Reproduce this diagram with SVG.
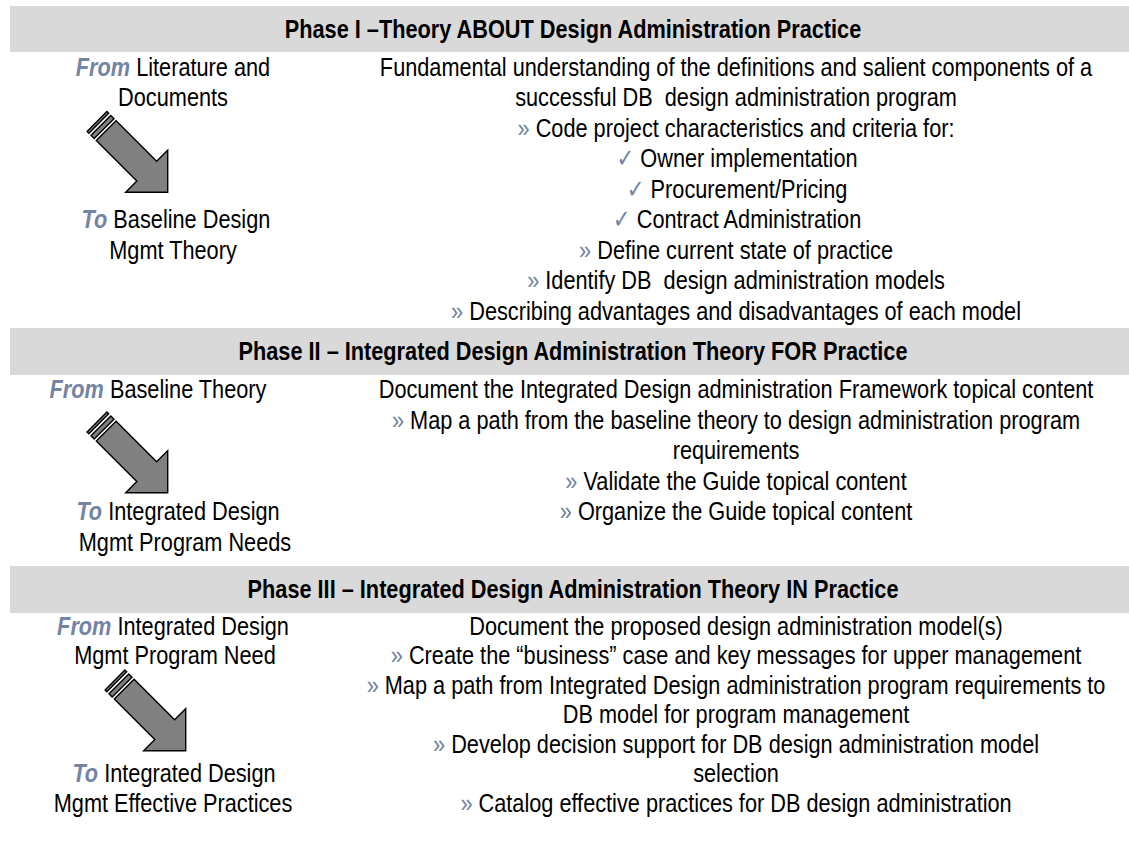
<svg xmlns="http://www.w3.org/2000/svg" xmlns:xlink="http://www.w3.org/1999/xlink" width="1129" height="851" viewBox="0 0 1129 851">
  <style>
    .bar { fill: #D9D9D9; }
    /* narrow sans: regular face condensed to 82% width */
    text { font-family: "Liberation Sans", Arial, sans-serif; font-size: 26.5px; fill: #000; text-anchor: middle; }
    .pre { white-space: pre; }
    .hd { font-weight: bold; }
    .kw { fill: #7484A3; font-weight: bold; font-style: italic; }
    .gt { fill: #7484A3; }
    .ck { fill: #7484A3; font-family: "DejaVu Sans", sans-serif; font-size: 26px; }
    .arrow { fill: #808080; stroke: #000; stroke-width: 1.4; stroke-linejoin: miter; }
  </style>
  <defs>
    <!-- striped block arrow, pointing along +x, tail at origin -->
    <g id="stripedArrow" class="arrow">
      <rect x="0" y="-14" width="2.5" height="28"/>
      <rect x="5.5" y="-14" width="4.5" height="28"/>
      <path d="M13,-14 H70.3 V-29.7 L100,0 L70.3,29.7 V14 H13 Z"/>
    </g>
  </defs>

  <!-- Phase I -->
  <g id="phase1-header">
    <rect class="bar" x="10" y="6" width="1119" height="46"/>
    <g transform="scale(0.82,1)">
      <text class="hd" x="698.8" y="38.5">Phase I –Theory ABOUT Design Administration Practice</text>
    </g>
  </g>
  <g id="phase1-from-to" transform="scale(0.82,1)">
    <text x="211" y="76"><tspan class="kw">From</tspan> Literature and</text>
    <text x="211" y="106.5">Documents</text>
    <text x="214.6" y="228.5"><tspan class="kw">To</tspan> Baseline Design</text>
    <text x="211" y="259">Mgmt Theory</text>
  </g>
  <g id="phase1-tasks" transform="scale(0.82,1)">
    <text x="897.6" y="76">Fundamental understanding of the definitions and salient components of a</text>
    <text class="pre" x="897.6" y="106.5">successful DB  design administration program</text>
    <text x="897.6" y="137"><tspan class="gt">»</tspan> Code project characteristics and criteria for:</text>
    <text x="898.8" y="167.5"><tspan class="ck">✓</tspan> Owner implementation</text>
    <text x="898.8" y="198"><tspan class="ck">✓</tspan> Procurement/Pricing</text>
    <text x="898.8" y="228.5"><tspan class="ck">✓</tspan> Contract Administration</text>
    <text x="897.6" y="259"><tspan class="gt">»</tspan> Define current state of practice</text>
    <text class="pre" x="897.6" y="289.5"><tspan class="gt">»</tspan> Identify DB  design administration models</text>
    <text x="897.6" y="320"><tspan class="gt">»</tspan> Describing advantages and disadvantages of each model</text>
  </g>

  <!-- Phase II -->
  <g id="phase2-header">
    <rect class="bar" x="10" y="328" width="1119" height="47"/>
    <g transform="scale(0.82,1)">
      <text class="hd" x="698.8" y="360.5">Phase II – Integrated Design Administration Theory FOR Practice</text>
    </g>
  </g>
  <g id="phase2-from-to" transform="scale(0.82,1)">
    <text x="192.7" y="398.5"><tspan class="kw">From</tspan> Baseline Theory</text>
    <text x="217.1" y="520.5"><tspan class="kw">To</tspan> Integrated Design</text>
    <text x="225.6" y="551">Mgmt Program Needs</text>
  </g>
  <g id="phase2-tasks" transform="scale(0.82,1)">
    <text x="897.6" y="398.5">Document the Integrated Design administration Framework topical content</text>
    <text x="897.6" y="429"><tspan class="gt">»</tspan> Map a path from the baseline theory to design administration program</text>
    <text x="897.6" y="459.5">requirements</text>
    <text x="897.6" y="490"><tspan class="gt">»</tspan> Validate the Guide topical content</text>
    <text x="897.6" y="520.5"><tspan class="gt">»</tspan> Organize the Guide topical content</text>
  </g>

  <!-- Phase III -->
  <g id="phase3-header">
    <rect class="bar" x="10" y="566" width="1119" height="47"/>
    <g transform="scale(0.82,1)">
      <text class="hd" x="698.8" y="598.5">Phase III – Integrated Design Administration Theory IN Practice</text>
    </g>
  </g>
  <g id="phase3-from-to" transform="scale(0.82,1)">
    <text x="211" y="635"><tspan class="kw">From</tspan> Integrated Design</text>
    <text x="213.4" y="664.5">Mgmt Program Need</text>
    <text x="212.2" y="782.5"><tspan class="kw">To</tspan> Integrated Design</text>
    <text x="211" y="812">Mgmt Effective Practices</text>
  </g>
  <g id="phase3-tasks" transform="scale(0.82,1)">
    <text x="897.6" y="635">Document the proposed design administration model(s)</text>
    <text x="897.6" y="664.5"><tspan class="gt">»</tspan> Create the “business” case and key messages for upper management</text>
    <text x="897.6" y="694"><tspan class="gt">»</tspan> Map a path from Integrated Design administration program requirements to</text>
    <text x="897.6" y="723.5">DB model for program management</text>
    <text x="897.6" y="753"><tspan class="gt">»</tspan> Develop decision support for DB design administration model</text>
    <text x="897.6" y="782.5">selection</text>
    <text x="897.6" y="812"><tspan class="gt">»</tspan> Catalog effective practices for DB design administration</text>
  </g>

  <!-- transition arrows -->
  <g id="connectors">
    <use xlink:href="#stripedArrow" transform="translate(97,121.5) rotate(45)"/>
    <use xlink:href="#stripedArrow" transform="translate(97,422) rotate(45)"/>
    <use xlink:href="#stripedArrow" transform="translate(115,680) rotate(45)"/>
  </g>
</svg>
